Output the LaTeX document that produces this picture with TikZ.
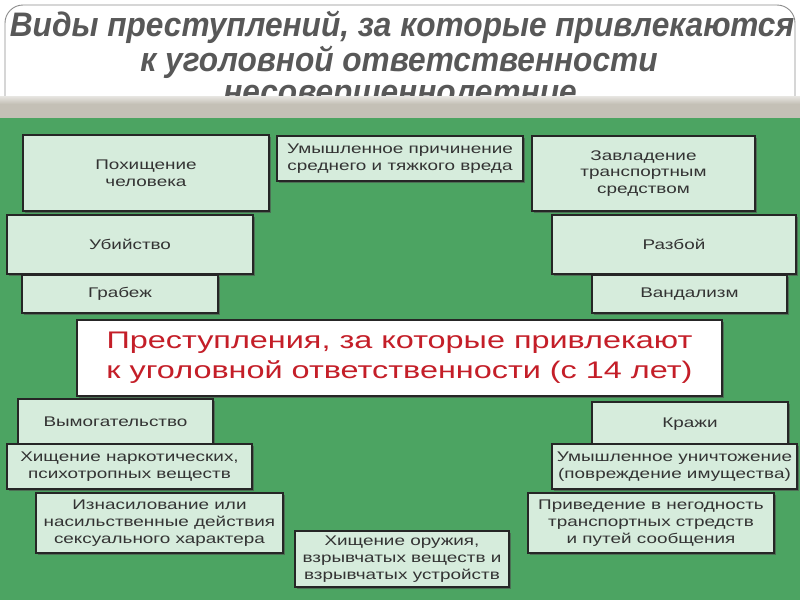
\documentclass[tikz,border=0pt]{standalone}
\usepackage{fontspec}
\usetikzlibrary{shadows}
\newfontfamily\boxfont{Liberation Sans}[FakeStretch=1.35]
\newfontfamily\titlefont{Liberation Sans}[FakeStretch=0.93]
\definecolor{bg}{RGB}{76,164,98}
\definecolor{boxfill}{RGB}{214,236,220}
\definecolor{band}{RGB}{196,192,182}
\definecolor{ttl}{RGB}{88,88,88}
\definecolor{redt}{RGB}{196,30,40}
\newcommand\cb[6]{\node[cbox, minimum width={(#4-#2)*1pt}, minimum height={(#5-#3)*1pt}] (#1) at ({(#2+#4)/2},{(#3+#5)/2}) {#6};}
\begin{document}
\begin{tikzpicture}[x=1pt,y=-1pt,
  cbox/.style={draw=black!85, line width=1.1pt, fill=boxfill, inner sep=0pt, align=center,
    font=\boxfont\fontsize{14}{16.8}\selectfont, text=black!80,
    drop shadow={shadow xshift=2pt, shadow yshift=-2pt, fill=black!70, opacity=0.6}},
  mainbox/.style={draw=black!85, line width=1.1pt, fill=white, inner sep=0pt, align=center,
    font=\boxfont\fontsize{24}{30}\selectfont, text=redt,
    drop shadow={shadow xshift=2pt, shadow yshift=-2pt, fill=black!70, opacity=0.6}},
  ttlstyle/.style={font=\titlefont\bfseries\itshape\fontsize{34}{40}\selectfont, text=ttl, inner sep=0pt}]
\useasboundingbox (0,0) rectangle (800,600);
\fill[white] (0,0) rectangle (800,600);
% title frame
\draw[black!45, line width=0.9pt, rounded corners=18pt] (5,5) rectangle (795,160);
\node[ttlstyle] (t1) at (402,27) {Виды преступлений, за которые привлекаются};
\node[ttlstyle] (t2) at (399,62) {к уголовной ответственности};
\node[ttlstyle] (t3) at (400,98) {несовершеннолетние};
% band and green field
\shade[top color=band!40!white, bottom color=band] (0,96) rectangle (800,104);
\fill[band] (0,104) rectangle (800,118);
\fill[bg] (0,118) rectangle (800,600);
% boxes top left
\cb{b1}{23}{135}{269}{211}{Похищение\\человека}
\cb{b2}{7}{215}{253}{274}{Убийство}
\cb{b3}{22}{275}{218}{313}{Грабеж}
% top middle
\cb{b4}{277}{136}{523}{181}{Умышленное причинение\\среднего и тяжкого вреда}
% top right
\cb{b5}{532}{136}{755}{211}{Завладение\\транспортным\\средством}
\cb{b6}{552}{215}{796}{274}{Разбой}
\cb{b7}{592}{275}{787}{313}{Вандализм}
% central
\node[mainbox, minimum width=645pt, minimum height=76pt] (main) at (399.5,358) {Преступления, за которые привлекают\\к уголовной ответственности (с 14 лет)};
% bottom left
\cb{b8}{18}{399}{213}{444}{Вымогательство}
\cb{b9}{7}{444}{252}{489}{Хищение наркотических,\\психотропных веществ}
\cb{b10}{36}{493}{283}{553}{Изнасилование или\\насильственные действия\\сексуального характера}
% bottom middle
\cb{b11}{295}{531}{509}{587}{Хищение оружия,\\взрывчатых веществ и\\взрывчатых устройств}
% bottom right
\cb{b12}{592}{402}{788}{447}{Кражи}
\cb{b13}{552}{444}{797}{489}{Умышленное уничтожение\\(повреждение имущества)}
\cb{b14}{528}{493}{774}{553}{Приведение в негодность\\транспортных стредств\\и путей сообщения}
\end{tikzpicture}
\end{document}
